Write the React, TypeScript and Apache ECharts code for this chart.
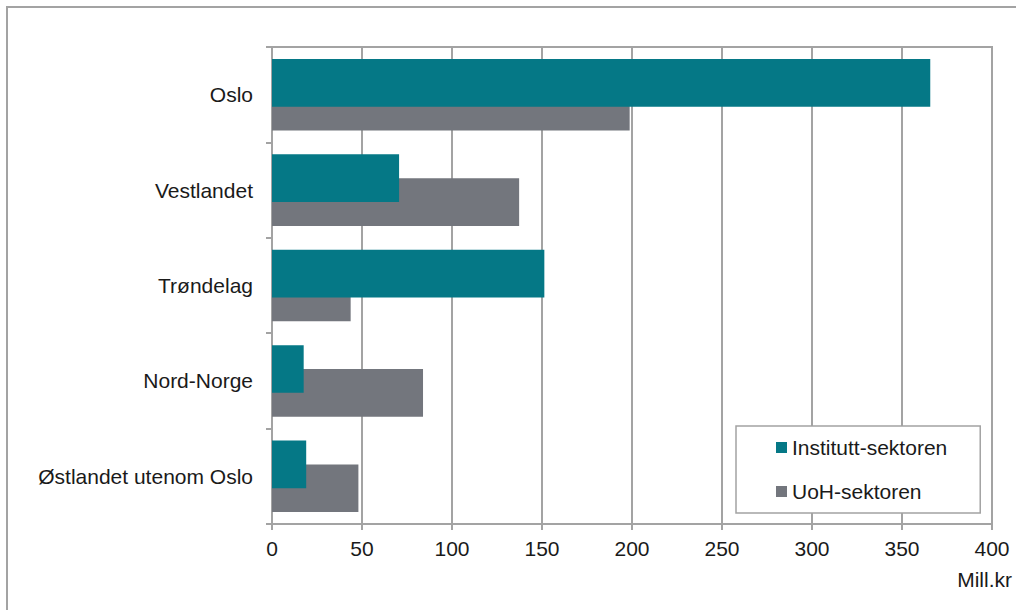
import React, { useEffect, useRef } from "react";
import * as echarts from "echarts";

const categories = ["Oslo", "Vestlandet", "Trøndelag", "Nord-Norge", "Østlandet utenom Oslo"];
const instituttValues = [365.7, 70.6, 151.3, 17.6, 19.0];
const uohValues = [198.7, 137.3, 43.7, 83.9, 48.0];
const seriesNames = ["Institutt-sektoren", "UoH-sektoren"];
const xTicks = { min: 0, max: 400, interval: 50 };
const unitLabel = "Mill.kr";

const FONT = "Liberation Sans, Arial, sans-serif";
const GRID_COLOR = "#a3a3a3";

export default function App() {
  const ref = useRef<HTMLDivElement>(null);
  useEffect(() => {
    if (!ref.current) return;
    const chart = echarts.init(ref.current, undefined, { renderer: "svg" });
    chart.setOption({
      animation: false,
      backgroundColor: "#ffffff",
      grid: {
        left: 272,
        right: 24,
        top: 47,
        bottom: 86,
        show: true,
        borderColor: GRID_COLOR,
        borderWidth: 2,
        containLabel: false,
      },
      legend: {
        orient: "vertical",
        left: 736,
        top: 426,
        data: seriesNames,
        icon: "rect",
        itemWidth: 11,
        itemHeight: 11,
        itemGap: 23,
        padding: [11, 33, 11, 40],
        backgroundColor: "#ffffff",
        borderColor: GRID_COLOR,
        borderWidth: 1.5,
        textStyle: { fontFamily: FONT, fontSize: 21, color: "#1a1a1a", lineHeight: 21 },
        z: 10,
      },
      xAxis: {
        type: "value",
        min: xTicks.min,
        max: xTicks.max,
        interval: xTicks.interval,
        axisLine: { show: true, lineStyle: { color: GRID_COLOR, width: 2 } },
        axisTick: { show: true, length: 6, lineStyle: { color: GRID_COLOR, width: 2 } },
        axisLabel: { fontFamily: FONT, fontSize: 21, color: "#1a1a1a", margin: 14 },
        splitLine: { show: true, lineStyle: { color: GRID_COLOR, width: 2 } },
      },
      yAxis: {
        type: "category",
        data: categories,
        inverse: true,
        axisLine: { show: true, lineStyle: { color: GRID_COLOR, width: 2 } },
        axisTick: { show: true, length: 6, lineStyle: { color: GRID_COLOR, width: 2 } },
        axisLabel: { fontFamily: FONT, fontSize: 21, color: "#1a1a1a", margin: 19 },
        splitLine: { show: false },
      },
      graphic: [
        {
          type: "rect",
          shape: { x: 7, y: 7, width: 1200, height: 800 },
          style: { fill: "none", stroke: GRID_COLOR, lineWidth: 2 },
          silent: true,
        },
        {
          type: "text",
          right: 4,
          top: 569,
          style: { text: unitLabel, font: `21px ${FONT}`, fill: "#1a1a1a" },
        },
      ],
      series: [
        {
          name: seriesNames[0],
          type: "bar",
          data: instituttValues,
          barWidth: "50%",
          barGap: "-50%",
          itemStyle: { color: "#057886" },
          z: 3,
        },
        {
          name: seriesNames[1],
          type: "bar",
          data: uohValues,
          barWidth: "50%",
          barGap: "-50%",
          itemStyle: { color: "#73767d" },
          z: 2,
        },
      ],
    });
    return () => chart.dispose();
  }, []);
  return (
    <div
      ref={ref}
      style={{ position: "fixed", left: 0, top: 0, width: 1016, height: 610, background: "#fff" }}
    />
  );
}
